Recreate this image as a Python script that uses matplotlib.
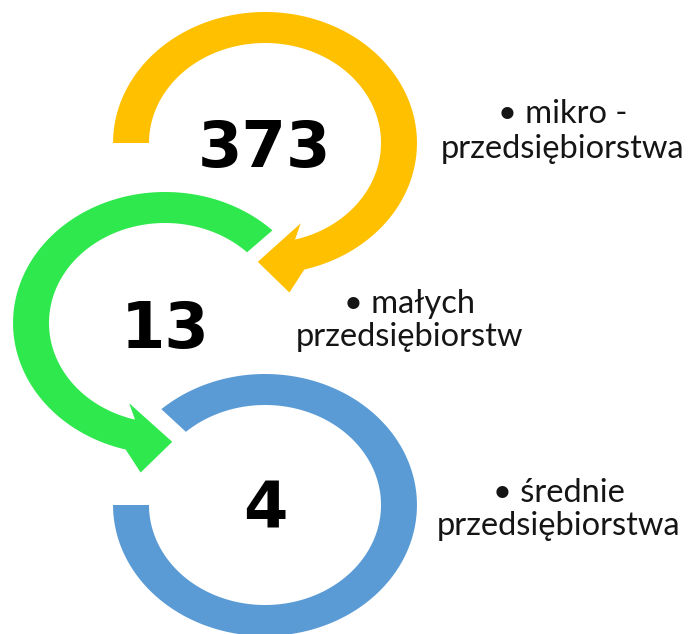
import numpy as np
import matplotlib.pyplot as plt
from matplotlib.patches import Polygon

# data
values = [373, 13, 4]
labels = ['mikro -\nprzedsiębiorstwa', 'małych\nprzedsiębiorstw', 'średnie\nprzedsiębiorstwa']
colors = ['#FFC000', '#2FE84E', '#5B9BD5']

# layout (pixel coords, y down)
R_OUT, R_IN, SX = 131, 100, 1.16
centers = [(265, 143), (165, 323), (265, 505)]
arcs = [(180, -75, True), (45, 255, True), (180, 493, False)]
num_base = [167, 348, 528]
label_x = [563, 410, 559]
label_base = [(123, 158), (313, 346), (502, 535)]


def pt(cx, cy, r, a):
    a = np.radians(a)
    return (cx + r * np.cos(a) * SX, cy - r * np.sin(a))


def ring(cx, cy, a0, a1, arrow):
    angs = np.linspace(a0, a1, 300)
    pts = [pt(cx, cy, R_OUT, a) for a in angs]
    if arrow:
        d = np.sign(a1 - a0)
        pts.append(pt(cx, cy, 151, a1 + d * 7))
        pts.append(pt(cx, cy, 119, a1 + d * 18))
        pts.append(pt(cx, cy, 86, a1 - d * 6))
    pts += [pt(cx, cy, R_IN, a) for a in angs[::-1]]
    return pts


fig = plt.figure(figsize=(6.9, 6.34), dpi=100)
ax = fig.add_axes([0, 0, 1, 1])
ax.set_xlim(0, 690)
ax.set_ylim(634, 0)
ax.axis('off')

# draw bottom ring first so upper arrows sit on top
for i in [2, 1, 0]:
    cx, cy = centers[i]
    a0, a1, arrow = arcs[i]
    ax.add_patch(Polygon(ring(cx, cy, a0, a1, arrow), closed=True,
                         facecolor=colors[i], edgecolor='none'))
    ax.text(cx, num_base[i], str(values[i]), ha='center', va='baseline',
            fontsize=46, fontweight='bold', family='DejaVu Sans', color='black')

for i, lab in enumerate(labels):
    first, second = lab.split('\n')
    ax.text(label_x[i], label_base[i][0], '• ' + first, ha='center', va='baseline',
            fontsize=23.5, family=['Lato', 'DejaVu Sans'], color='#151515')
    ax.text(label_x[i], label_base[i][1], second, ha='center', va='baseline',
            fontsize=23.5, family=['Lato', 'DejaVu Sans'], color='#151515')

fig.savefig('out.png', dpi=100)
